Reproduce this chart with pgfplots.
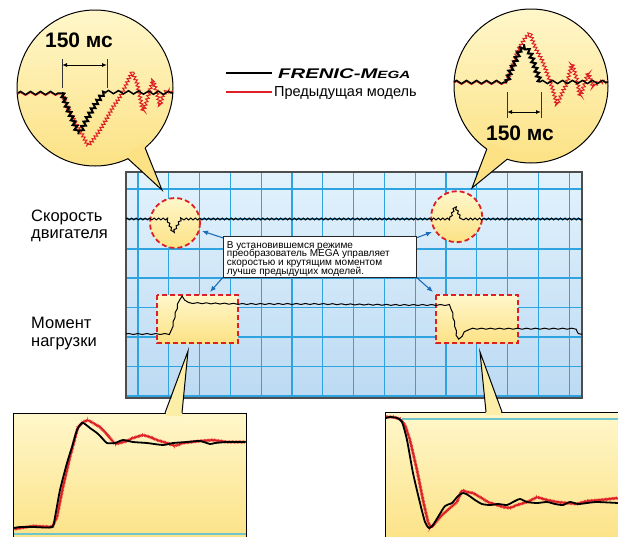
\documentclass[border=0pt]{standalone}
\usepackage{pgfplots}
\pgfplotsset{compat=1.18}
\usepackage{graphicx}
\usepackage{fontspec}
\setmainfont{Liberation Sans}
\usetikzlibrary{decorations.pathmorphing,arrows.meta}
\definecolor{gridblue}{HTML}{2EA3DF}
\definecolor{panTop}{HTML}{E2F2FC}
\definecolor{panBot}{HTML}{BCDAF3}
\definecolor{yelTop}{HTML}{FFF7CA}
\definecolor{yelBot}{HTML}{FCE285}
\definecolor{yelTail}{HTML}{FCEEA6}
\definecolor{redL}{HTML}{DD1F26}
\definecolor{arrB}{HTML}{1E6DB8}
\definecolor{cyanL}{HTML}{70C4CC}
\definecolor{frameG}{HTML}{4D4D4D}
\tikzset{
  zz/.style 2 args={decorate, decoration={zigzag, amplitude=#1, segment length=#2}},
  rdash/.style={draw=redL, line width=1.8pt, dash pattern=on 5pt off 3pt},
  lab/.style={anchor=base west, inner sep=0pt, font=\fontsize{16.5}{18}\selectfont},
  btxt/.style={anchor=base west, inner sep=0pt, font=\fontsize{10}{10}\selectfont},
  big/.style={anchor=base, inner sep=0pt, font=\fontsize{21}{21}\selectfont\bfseries},
  barr/.style={draw=arrB, line width=1.1pt, -{Latex[length=6pt,width=5pt]}},
}
\begin{document}
\begin{tikzpicture}
\path[use as bounding box] (0,0) rectangle (618pt,536pt);
% ---------------- main panel ----------------
\begin{axis}[at={(126pt,138pt)}, anchor=south west, scale only axis, width=456pt, height=226pt,
  xmin=126, xmax=582, ymin=172, ymax=398, y dir=reverse,
  xtick={138,168.8,199.6,230.4,261.2,292,322.8,353.6,384.4,415.2,446,476.8,507.6,538.4,569.2},
  ytick={189,219,249,278,307.5,337,366.5,396},
  xticklabels={}, yticklabels={}, major tick length=0pt,
  grid=major, major grid style={draw=gridblue, line width=1.1pt},
  axis line style={draw=frameG, line width=1.3pt},
  axis background/.style={top color=panTop, bottom color=panBot},
  clip=true]
\draw[rdash, top color=yelTop, bottom color=yelBot] (175,223) circle[radius=25pt];
\draw[rdash, top color=yelTop, bottom color=yelBot] (456.7,216.7) circle[radius=25.5pt];
\draw[rdash, top color=yelTop, bottom color=yelBot] (157,295) rectangle (238,343);
\draw[rdash, top color=yelTop, bottom color=yelBot] (436,295) rectangle (518,343);
% speed
\addplot[black, line width=1pt, zz={0.9pt}{4.5pt}] coordinates {(126,219) (167,219) (173,233) (181,219) (450,219) (455,206) (461,219) (582,219)};
% torque
\addplot[black, line width=1pt, decorate, decoration={snake, amplitude=0.5pt, segment length=9pt}] coordinates {(126,334) (168,334) (171,330) (175,312) (178,301) (181,298) (184,301) (188,305) (240,306) (320,306) (400,307) (449,307) (452,312) (455,326) (457,338) (459,343) (462,339) (467,335) (473,334) (582,334)};
% arrows and text box
\draw[barr] (223.3,238) -- (202,231);
\draw[barr] (223.3,277) -- (210,292);
\draw[barr] (416,238) -- (432,232);
\draw[barr] (416,277) -- (433,292);
\draw[fill=white, draw=black!85, line width=0.9pt] (223.3,236.7) rectangle (416,277.7);
\node[btxt] at (226.7,248.3) {В установившемся режиме};
\node[btxt] at (226.7,256.9) {преобразователь MEGA управляет};
\node[btxt] at (226.7,265.6) {скоростью и крутящим моментом};
\node[btxt] at (226.7,274.3) {лучше предыдущих моделей.};
\end{axis}
% ---------------- overlay ----------------
\begin{axis}[at={(0pt,0pt)}, anchor=south west, scale only axis, width=618pt, height=536pt,
  xmin=0, xmax=618, ymin=0, ymax=536, y dir=reverse, hide axis, clip=true]
% labels
\node[lab] at (31,221) {Скорость};
\node[lab] at (31,238) {двигателя};
\node[lab] at (31,328) {Момент};
\node[lab] at (31,346.5) {нагрузки};
% legend
\draw[black, line width=1.6pt] (226,73) -- (272,73);
\node[anchor=base west, inner sep=0pt] at (278,78.5) {\scalebox{1.45}[1]{\fontsize{14}{14}\selectfont\bfseries\itshape FRENIC-M{\fontsize{10.5}{10}\selectfont EGA}}};
\draw[redL, line width=1.3pt] (226,92) -- (272,92);
\node[anchor=base west, inner sep=0pt, font=\fontsize{14.5}{15}\selectfont] at (274,96.5) {Предыдущая модель};
% ---- left bubble
\draw[black, line width=1pt, top color=yelTop, bottom color=yelBot] (95,88) circle[radius=78pt];
\fill[yelBot] (128,158.7) -- (131,150) -- (143,143) -- (145.1,147.8) -- (162,190) -- cycle;
\draw[black, line width=1pt] (128,158.7) -- (162,190) -- (145.1,147.8);
\node[big] at (79,47) {150 мс};
\draw[black!80, line width=0.6pt] (62,59) -- (62,88);
\draw[black!80, line width=0.6pt] (107,59) -- (107,88);
\draw[black, line width=1pt, {Latex[length=5pt,width=4pt]}-{Latex[length=5pt,width=4pt]}] (62,65) -- (107,65);
\addplot[redL, line width=1pt, zz={1.5pt}{10pt}] coordinates {(18,94) (62,94)};
\addplot[redL, line width=1pt, zz={1.6pt}{3.5pt}] coordinates {(62,93) (68,108) (75,122) (82,134) (88,146) (93,140) (100,130) (107,118) (113,107) (120,97) (125,87) (132,72) (137,83) (140,97) (143,112) (148,97) (153,80) (157,93) (160,106) (163,95) (167,90) (172,93)};
\addplot[black, line width=1.5pt, zz={1.6pt}{10pt}] coordinates {(18,93) (62,93)};
\addplot[black, line width=2pt, zz={2pt}{5pt}] coordinates {(62,93) (67,107) (72,118) (77,131) (80,133) (83,127) (88,117) (95,105) (102,95) (106,92)};
\addplot[black, line width=1.5pt, zz={1.6pt}{10pt}] coordinates {(106,92) (173,93)};
% ---- right bubble
\draw[black, line width=1pt, top color=yelTop, bottom color=yelBot] (531,86) circle[radius=77pt];
\fill[yelBot] (486.8,149.1) -- (490,143) -- (505,150) -- (507.2,159.2) -- (472,188) -- cycle;
\draw[black, line width=1pt] (486.8,149.1) -- (472,188) -- (507.2,159.2);
\node[big] at (520,140) {150 мс};
\draw[black!80, line width=0.6pt] (507,92) -- (507,118);
\draw[black!80, line width=0.6pt] (541,92) -- (541,118);
\draw[black, line width=1pt, {Latex[length=5pt,width=4pt]}-{Latex[length=5pt,width=4pt]}] (507,112) -- (541,112);
\addplot[redL, line width=1pt, zz={1.5pt}{10pt}] coordinates {(454,83) (507,83)};
\addplot[redL, line width=1pt, zz={1.6pt}{3.5pt}] coordinates {(507,82) (512,67) (518,50) (525,38) (530,33) (535,47) (542,60) (547,73) (552,87) (557,105) (562,93) (567,83) (572,63) (577,80) (580,97) (585,83) (588,72) (593,87) (598,82) (608,82)};
\addplot[black, line width=1.5pt, zz={1.6pt}{10pt}] coordinates {(454,82) (507,82)};
\addplot[black, line width=2pt, zz={2pt}{5pt}] coordinates {(507,82) (510,72) (515,62) (520,50) (525,46) (530,53) (535,67) (540,82)};
\addplot[black, line width=1.5pt, zz={1.6pt}{10pt}] coordinates {(540,82) (608,82)};
% ---- lower left box
\draw[black, line width=1pt, top color=yelTop, bottom color=yelBot] (13,413) rectangle (246,545);
\fill[yelTail] (165,416) -- (188,351) -- (182,416) -- cycle;
\draw[black, line width=1pt] (165,413) -- (188,351) -- (182,413);
\addplot[cyanL, line width=1.6pt] coordinates {(14,534) (245.5,534)};
\addplot[redL, line width=1pt, zz={0.7pt}{1.4pt}] coordinates {(14,529) (33,526) (52,527) (57,517) (63,487) (70,457) (78,427) (83,422) (88,420) (93,423) (100,427) (105,432) (110,438) (115,444) (120,443) (127,441) (133,438) (143,435) (150,437) (157,440) (167,443) (175,446) (183,443) (200,441) (213,440) (227,442) (245.5,442)};
\addplot[black, line width=1.8pt, smooth, tension=0.4] coordinates {(14,528) (20,527) (33,527) (52,527) (55,517) (60,490) (67,463) (72,447) (77,430) (82,423) (85,424) (90,428) (97,433) (102,438) (107,443) (115,443) (123,440) (133,442) (147,443) (163,445) (173,443) (187,442) (200,441) (210,444) (215,443) (227,442) (245.5,442)};
% ---- lower right box
\draw[black, line width=1pt, top color=yelTop, bottom color=yelBot] (385,412) rectangle (630,545);
\fill[yelTail] (486,415) -- (480,352) -- (502,415) -- cycle;
\draw[black, line width=1pt] (486,412) -- (480,352) -- (502,412);
\addplot[cyanL, line width=1.6pt] coordinates {(402,419) (618,419)};
\addplot[redL, line width=1pt, zz={0.7pt}{1.4pt}] coordinates {(386,417) (393,417) (400,419) (405,425) (410,440) (417,470) (423,500) (428,522) (431,528) (435,523) (442,515) (450,508) (457,502) (462,490) (467,492) (473,493) (480,497) (488,502) (497,505) (503,507) (510,508) (517,505) (527,502) (537,497) (547,500) (557,502) (567,503) (577,504) (587,501) (600,500) (618,498)};
\addplot[black, line width=1.8pt, smooth, tension=0.4] coordinates {(386,418) (390,417) (397,418) (402,422) (407,440) (413,473) (420,503) (425,522) (429,528) (433,525) (438,517) (445,506) (452,503) (458,496) (463,493) (468,495) (475,500) (482,504) (490,505) (498,504) (507,505) (513,502) (520,499) (527,502) (537,503) (547,502) (555,504) (563,505) (570,502) (578,504) (587,503) (597,502) (618,503)};
\end{axis}
\end{tikzpicture}
\end{document}
